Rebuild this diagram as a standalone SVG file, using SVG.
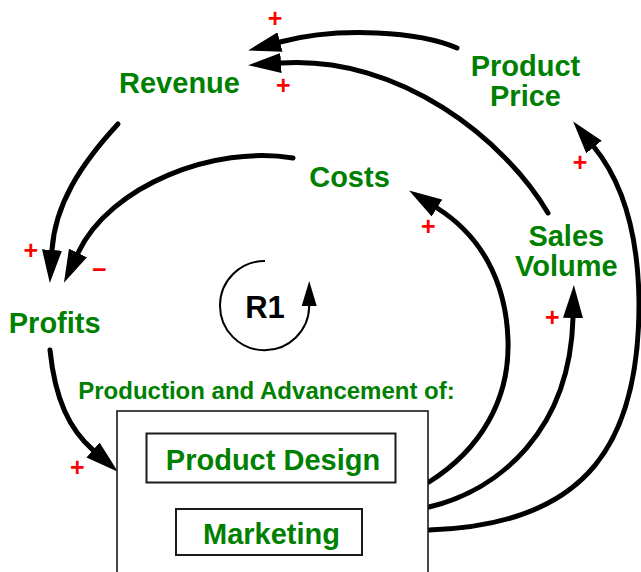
<svg xmlns="http://www.w3.org/2000/svg" width="641" height="572" viewBox="0 0 641 572">
  <style>
    .lbl { font-family: "Liberation Sans", Arial, sans-serif; font-weight: bold; font-size: 29px; fill: #008000; text-anchor: middle; }
    .sub { font-size: 24px; }
    .sign { font-family: "Liberation Sans", Arial, sans-serif; font-weight: bold; font-size: 25px; fill: #ff0000; text-anchor: middle; }
    .link { fill: none; stroke: #000; stroke-width: 5; stroke-linecap: round; marker-end: url(#head); }
    .box { fill: #fff; stroke: #1a1a1a; stroke-width: 2; }
  </style>
  <defs>
    <marker id="head" markerUnits="userSpaceOnUse" markerWidth="33" markerHeight="20" refX="0" refY="10" orient="auto" viewBox="0 0 33 20">
      <path d="M0,0 L33,10 L0,20 Z" fill="#000"/>
    </marker>
  </defs>

  <rect width="641" height="572" fill="#fff"/>

  <!-- causal links -->
  <g id="connectors">
    <path class="link" d="M457,48 C420,32 340,26 280,42"/>
    <path class="link" d="M548,213 C505,140 400,55 281,63"/>
    <path class="link" d="M118,124 C80,165 55,205 52,250"/>
    <path class="link" d="M293,158 C215,145 110,185 78,253"/>
    <path class="link" d="M50,350 C55,400 70,430 93,450"/>
    <path class="link" d="M429,482 C480,450 510,400 508,340 C506,280 480,235 437,208"/>
    <path class="link" d="M429,507 C500,490 570,430 573,318"/>
    <path class="link" d="M429,530 C590,525 640,440 639,300 C638,240 625,185 594,147"/>
  </g>

  <!-- polarity signs -->
  <g id="polarities">
    <text class="sign" x="275" y="26.8">+</text>
    <text class="sign" x="283.3" y="94.3">+</text>
    <text class="sign" x="30.7" y="259.3">+</text>
    <text class="sign" x="99.3" y="278" font-size="38">−</text>
    <text class="sign" x="428.3" y="235.3">+</text>
    <text class="sign" x="552.3" y="325.9">+</text>
    <text class="sign" x="580" y="171.3">+</text>
    <text class="sign" x="77.3" y="475.9">+</text>
  </g>

  <g id="revenue"><text class="lbl" x="179.5" y="93.2">Revenue</text></g>
  <g id="costs"><text class="lbl" x="349.5" y="187.3">Costs</text></g>
  <g id="profits"><text class="lbl" x="54.7" y="333.3">Profits</text></g>
  <g id="sales-volume">
    <text class="lbl" x="566.3" y="246.3">Sales</text>
    <text class="lbl" x="566.3" y="276.3">Volume</text>
  </g>
  <g id="product-price">
    <text class="lbl" x="525.5" y="76">Product</text>
    <text class="lbl" x="525.5" y="106.3">Price</text>
  </g>

  <!-- reinforcing loop marker -->
  <g id="loop-r1">
    <path d="M265,261 A44.6,44.6 0 1 0 309.2,306" fill="none" stroke="#000" stroke-width="2"/>
    <polygon points="301.7,306 316.7,306 309.2,281" fill="#000"/>
    <text x="265" y="317.5" font-family="Liberation Sans, Arial, sans-serif" font-weight="bold" font-size="31" text-anchor="middle" fill="#000">R1</text>
  </g>

  <g id="production">
    <text class="lbl sub" x="266.5" y="399.3">Production and Advancement of:</text>
    <rect x="117" y="411" width="311" height="200" fill="#fff" stroke="#1a1a1a" stroke-width="1.6"/>
  </g>
  <g id="product-design">
    <rect class="box" x="146.5" y="433.5" width="249" height="49"/>
    <text class="lbl" x="273" y="470.3">Product Design</text>
  </g>
  <g id="marketing">
    <rect class="box" x="176" y="509" width="186" height="46"/>
    <text class="lbl" x="271.5" y="543.5">Marketing</text>
  </g>
</svg>
